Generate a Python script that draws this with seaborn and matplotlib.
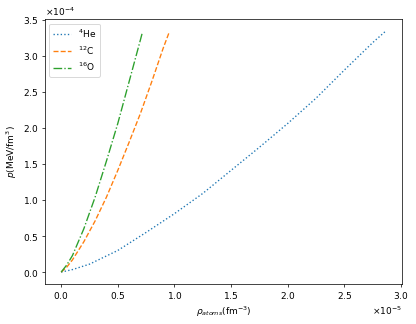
import numpy as np
import matplotlib
matplotlib.use('Agg')
import matplotlib.pyplot as plt
import seaborn as sns
import pandas as pd

# density in 1e-5 fm^-3, pressure in 1e-4 MeV/fm^3
rho_he = [0.0, 0.10, 0.25, 0.50, 0.75, 1.00, 1.25, 1.50, 1.75, 2.00, 2.25, 2.50, 2.75, 2.865]
p_he = [0.0, 0.035, 0.11, 0.30, 0.55, 0.81, 1.09, 1.41, 1.73, 2.06, 2.41, 2.80, 3.18, 3.34]

rho_c = [0.0, 0.05, 0.10, 0.20, 0.30, 0.40, 0.50, 0.60, 0.70, 0.80, 0.90, 0.955]
p_c = [0.0, 0.07, 0.17, 0.42, 0.71, 1.04, 1.41, 1.80, 2.20, 2.64, 3.10, 3.33]

rho_o = [0.0, 0.05, 0.10, 0.20, 0.30, 0.40, 0.50, 0.60, 0.70, 0.715]
p_o = [0.0, 0.10, 0.23, 0.60, 1.04, 1.54, 2.06, 2.64, 3.22, 3.31]

labels = [r'$^{4}$He', r'$^{12}$C', r'$^{16}$O']
styles = [':', '--', '-.']
colors = ['#1f77b4', '#ff7f0e', '#2ca02c']

df = pd.concat([
    pd.DataFrame({'rho': np.array(r) * 1e-5, 'p': np.array(p) * 1e-4, 'nuc': lab})
    for r, p, lab in zip([rho_he, rho_c, rho_o], [p_he, p_c, p_o], labels)
])

fig = plt.figure(figsize=(6.4, 324 / 65), dpi=65)
ax = fig.add_subplot(111)
fig.subplots_adjust(left=0.108, right=0.966, top=0.941, bottom=0.123)

for lab, ls, col in zip(labels, styles, colors):
    sns.lineplot(data=df[df['nuc'] == lab], x='rho', y='p', ax=ax,
                 color=col, linestyle=ls, label=lab, linewidth=1.5)

ax.ticklabel_format(style='sci', axis='both', scilimits=(0, 0), useMathText=True)
ax.set_xlabel(r'$\rho_{atoms}$(fm$^{-3}$)')
ax.set_ylabel(r'$p$(MeV/fm$^3$)')
ax.legend(loc='upper left')

plt.savefig('out.png', dpi=65)
